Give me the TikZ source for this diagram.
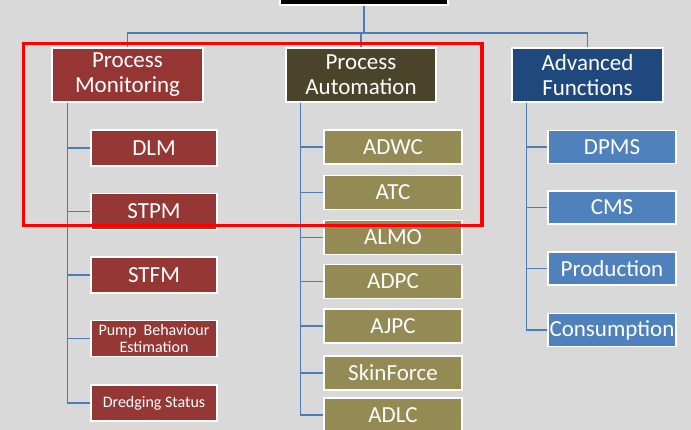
\documentclass[tikz,border=0pt]{standalone}
\usepackage{fontspec}
\setmainfont{Carlito}
\definecolor{bg}{HTML}{D9D9D9}
\definecolor{pmdark}{HTML}{963634}
\definecolor{pmlight}{HTML}{953735}
\definecolor{padark}{HTML}{4A442A}
\definecolor{palight}{HTML}{948A54}
\definecolor{afdark}{HTML}{1F497D}
\definecolor{aflight}{HTML}{4F81BD}
\definecolor{conncol}{HTML}{4A7EBB}
\tikzset{
  box/.style={draw=white, line width=1.2pt, text=white, inner sep=0pt, align=center},
  head/.style={box, minimum width=151pt, minimum height=54pt, font=\fontsize{23}{25}\selectfont},
  pmchild/.style={box, fill=pmlight, minimum width=126pt, minimum height=36pt, font=\fontsize{23}{25}\selectfont},
  pachild/.style={box, fill=palight, minimum width=138pt, minimum height=34pt, font=\fontsize{23}{25}\selectfont},
  afchild/.style={box, fill=aflight, minimum width=128pt, minimum height=33pt, font=\fontsize{23}{25}\selectfont},
  small/.style={font=\fontsize{16}{17}\selectfont},
  conn/.style={draw=conncol, line width=1.6pt},
  highlight/.style={draw=red, line width=3.5pt}
}
\begin{document}
\begin{tikzpicture}[x=1pt, y=-1pt]
\useasboundingbox (0,0) rectangle (691,430);
\fill[bg] (0,0) rectangle (691,430);

% root box (cut off at top)
\node[box, fill=black, minimum width=168pt, minimum height=40pt] (root) at (364,-15) {};

% headers
\node[head, fill=pmdark] (pm) at (127.5,75) {Process\\Monitoring};
\node[head, fill=padark, minimum width=150pt] (pa) at (361,75) {Process\\Automation};
\node[head, fill=afdark] (af) at (587.5,75) {Advanced\\Functions};

% bus
\coordinate (bus) at (364,33);
\draw[conn] (root.south) -- (bus);
\draw[conn] (bus) -| (pm.north);
\draw[conn] (bus) -| (pa.north);
\draw[conn] (bus) -| (af.north);

% Process Monitoring children
\node[pmchild] (dlm) at (154,148) {DLM};
\node[pmchild] (stpm) at (154,211.5) {STPM};
\node[pmchild] (stfm) at (154,275) {STFM};
\node[pmchild, small] (pump) at (154,338.5) {Pump~ Behaviour\\Estimation};
\node[pmchild, small] (dredge) at (154,403) {Dredging Status};

% Process Automation children
\node[pachild] (adwc) at (393,147) {ADWC};
\node[pachild] (atc) at (393,192.5) {ATC};
\node[pachild] (almo) at (393,237.5) {ALMO};
\node[pachild] (adpc) at (393,281.5) {ADPC};
\node[pachild] (ajpc) at (393,326) {AJPC};
\node[pachild] (skin) at (393,373) {SkinForce};
\node[pachild] (adlc) at (393,415) {ADLC};

% Advanced Functions children
\node[afchild] (dpms) at (612,147) {DPMS};
\node[afchild] (cms) at (612,207.5) {CMS};
\node[afchild] (prod) at (612,268.5) {Production};
\node[afchild] (cons) at (612,330) {Consumption};

% connectors
\foreach \c in {dlm,stpm,stfm,pump,dredge}
  \draw[conn] ([xshift=16pt]pm.south west) |- (\c.west);
\foreach \c in {adwc,atc,almo,adpc,ajpc,skin,adlc}
  \draw[conn] ([xshift=15pt]pa.south west) |- (\c.west);
\foreach \c in {dpms,cms,prod,cons}
  \draw[conn] ([xshift=15pt]af.south west) |- (\c.west);

% red highlight
\draw[highlight] (23.5,43.5) rectangle (482,225.5);
\end{tikzpicture}
\end{document}
